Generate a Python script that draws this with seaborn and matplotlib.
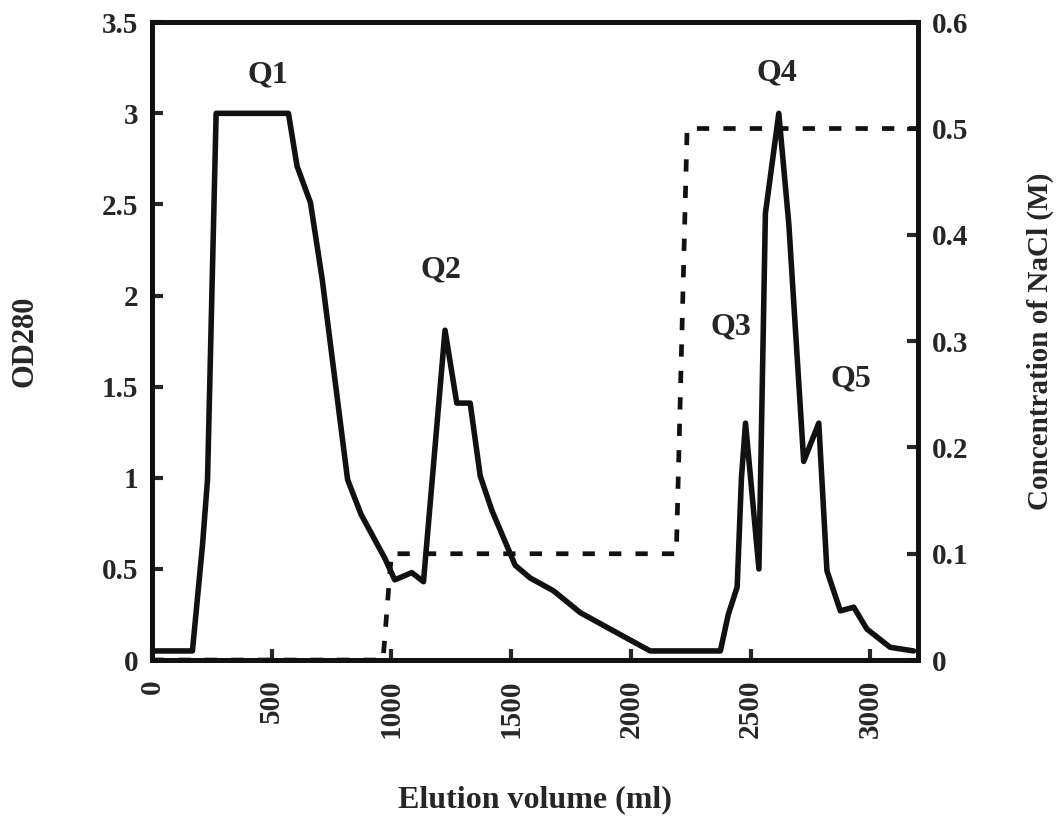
import numpy as np
import pandas as pd
import matplotlib
matplotlib.use("Agg")
import matplotlib.pyplot as plt
import seaborn as sns

# OD280 elution profile
volume_ml = [0, 169, 211, 232, 268, 570, 606, 662, 711, 817, 873, 972, 1014, 1050, 1085,
             1134, 1224, 1273, 1329, 1371, 1420, 1517, 1580, 1677, 1789, 1997, 2081, 2374,
             2407, 2444, 2462, 2479, 2535, 2562, 2618, 2660, 2722, 2785, 2819, 2875, 2931,
             2986, 3083, 3181]
od280 = [0.05, 0.05, 0.63, 0.99, 3.0, 3.0, 2.71, 2.51, 2.09, 0.99, 0.80, 0.56, 0.44, 0.46, 0.48,
         0.43, 1.81, 1.41, 1.41, 1.01, 0.82, 0.52, 0.45, 0.38, 0.26, 0.11, 0.05, 0.05,
         0.25, 0.40, 1.00, 1.30, 0.50, 2.45, 3.0, 2.39, 1.09, 1.30, 0.49, 0.27, 0.29,
         0.17, 0.07, 0.05]

# NaCl step gradient
nacl_volume = [0, 965, 1000, 2190, 2235, 3200]
nacl_conc = [0.0, 0.0, 0.1, 0.1, 0.5, 0.5]

peak_labels = ["Q1", "Q2", "Q3", "Q4", "Q5"]
peak_x = [485, 1208, 2420, 2612, 2917]
peak_y = [3.21, 2.14, 1.83, 3.22, 1.54]

x_ticks = [0, 500, 1000, 1500, 2000, 2500, 3000]
y_ticks = [0, 0.5, 1, 1.5, 2, 2.5, 3, 3.5]
y2_ticks = [0, 0.1, 0.2, 0.3, 0.4, 0.5, 0.6]

sns.set_style("ticks")
plt.rcParams['font.family'] = ['Liberation Serif', 'DejaVu Serif']
plt.rcParams['font.weight'] = 'bold'

fig = plt.figure(figsize=(10.59, 8.23), dpi=100)
ax = fig.add_axes([0.1435, 0.198, 0.7235, 0.775])
ax2 = ax.twinx()

df = pd.DataFrame({"v": volume_ml, "od": od280})
dn = pd.DataFrame({"v": nacl_volume, "c": nacl_conc})

sns.lineplot(data=df, x="v", y="od", ax=ax, color="#111111", linewidth=4.0,
             sort=False, estimator=None)
sns.lineplot(data=dn, x="v", y="c", ax=ax2, color="#111111", linewidth=3.4,
             sort=False, estimator=None, linestyle=(0, (2.6, 3.0)))

ax.set_xlim(0, 3200)
ax.set_ylim(0, 3.5)
ax2.set_ylim(0, 0.6)

ax.set_xticks(x_ticks)
ax.set_xticklabels([str(t) for t in x_ticks], rotation=90, fontsize=21, fontweight='bold')
ax.set_yticks(y_ticks)
ax.set_yticklabels([f"{t:g}" for t in y_ticks], fontsize=21, fontweight='bold')
ax2.set_yticks(y2_ticks)
ax2.set_yticklabels([f"{t:g}" for t in y2_ticks], fontsize=21, fontweight='bold')

for a in (ax, ax2):
    a.tick_params(direction='in', length=8, width=3, pad=10)
    for s in a.spines.values():
        s.set_linewidth(3.5)
        s.set_color("#111111")
ax.tick_params(axis='x', pad=14)

ax.set_xlabel("Elution volume (ml)", fontsize=23, fontweight='bold', labelpad=34)
ax.set_ylabel("OD280", fontsize=22, fontweight='bold', labelpad=45)
ax2.set_ylabel("Concentration of NaCl (M)", fontsize=21, fontweight='bold', labelpad=42)

for lab, px, py in zip(peak_labels, peak_x, peak_y):
    ax.text(px, py, lab, fontsize=23, fontweight='bold', ha='center', va='center')

fig.savefig("out.png", dpi=100)
